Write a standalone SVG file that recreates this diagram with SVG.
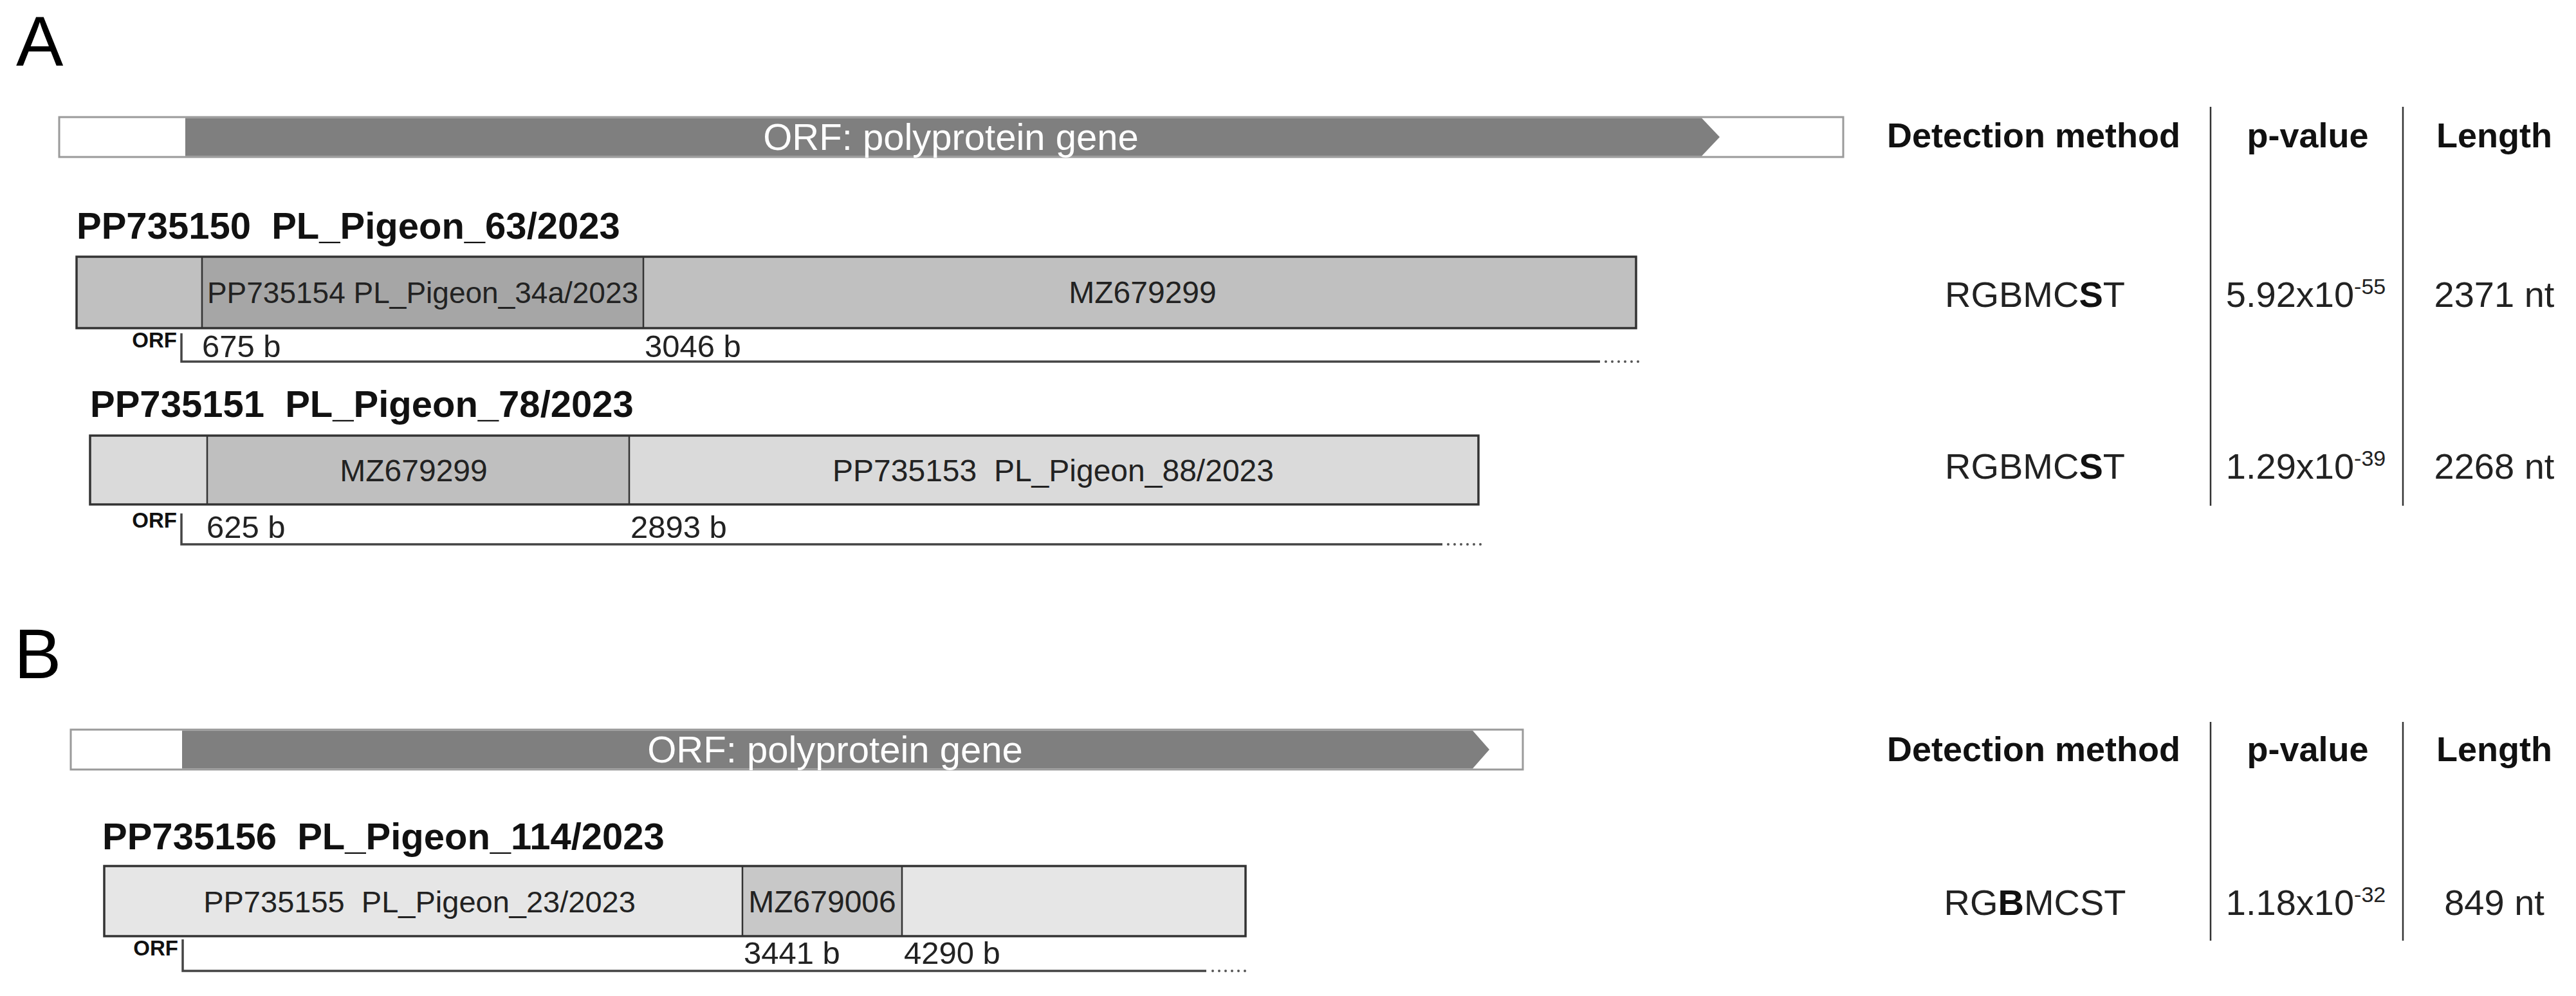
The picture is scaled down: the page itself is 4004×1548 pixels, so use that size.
<svg xmlns="http://www.w3.org/2000/svg" width="4004" height="1548" viewBox="0 0 4004 1548">
<style>
text{font-family:"Liberation Sans",Arial,sans-serif;fill:#1a1a1a;white-space:pre}
.panel{font-size:110px;fill:#000}
.title{font-size:58px;font-weight:bold;fill:#111}
.orfbar{fill:#fff;stroke:#9a9a9a;stroke-width:3}
.orfdark{fill:#7f7f7f}
.orftxt{font-size:58px;fill:#fff;text-anchor:middle}
.box{stroke:#333;stroke-width:3.5}
.div{stroke:#333;stroke-width:2.5}
.lbl{font-size:48px;fill:#222;text-anchor:middle}
.orfsm{font-size:33px;font-weight:bold;fill:#111;text-anchor:end}
.axis{stroke:#444;stroke-width:3.5;fill:none}
.dots{stroke:#555;stroke-width:4;stroke-dasharray:0 10;stroke-linecap:round;fill:none}
.tick{font-size:49px;fill:#222}
.sep{stroke:#333;stroke-width:2.5}
.hdr{font-size:54px;font-weight:bold;fill:#111;text-anchor:middle}
.cell{font-size:56px;fill:#222;text-anchor:middle}
.sup{font-size:34px}
</style>
<rect width="4004" height="1548" fill="#fff"/>

<text class="panel" x="25" y="102">A</text>
<text class="panel" x="22" y="1054">B</text>

<g id="orf-bar-A">
<rect class="orfbar" x="92" y="182" width="2773" height="62"/>
<polygon class="orfdark" points="288,183.5 2645,183.5 2673,213 2645,242.5 288,242.5"/>
<text class="orftxt" x="1478" y="233">ORF: polyprotein gene</text>
</g>

<g id="genome-PP735150">
<text class="title" x="119" y="371" xml:space="preserve">PP735150  PL_Pigeon_63/2023</text>
<rect x="119" y="399" width="195" height="111" fill="#c0c0c0"/>
<rect x="314" y="399" width="686" height="111" fill="#a6a6a6"/>
<rect x="1000" y="399" width="1543" height="111" fill="#c0c0c0"/>
<rect class="box" x="119" y="399" width="2424" height="111" fill="none"/>
<line class="div" x1="314" y1="399" x2="314" y2="510"/>
<line class="div" x1="1000" y1="399" x2="1000" y2="510"/>
<text class="lbl" x="657" y="471" style="font-size:46px">PP735154 PL_Pigeon_34a/2023</text>
<text class="lbl" x="1776" y="471">MZ679299</text>
<text class="orfsm" x="275" y="540">ORF</text>
<path class="axis" d="M282,518 V562 H2487"/>
<line class="dots" x1="2496" y1="562" x2="2547" y2="562"/>
<text class="tick" x="314" y="555">675 b</text>
<text class="tick" x="1002" y="555">3046 b</text>
</g>

<g id="genome-PP735151">
<text class="title" x="140" y="648" xml:space="preserve">PP735151  PL_Pigeon_78/2023</text>
<rect x="140" y="677" width="182" height="107" fill="#dadada"/>
<rect x="322" y="677" width="656" height="107" fill="#bfbfbf"/>
<rect x="978" y="677" width="1320" height="107" fill="#dadada"/>
<rect class="box" x="140" y="677" width="2158" height="107" fill="none"/>
<line class="div" x1="322" y1="677" x2="322" y2="784"/>
<line class="div" x1="978" y1="677" x2="978" y2="784"/>
<text class="lbl" x="643" y="748">MZ679299</text>
<text class="lbl" x="1637" y="748" xml:space="preserve">PP735153  PL_Pigeon_88/2023</text>
<text class="orfsm" x="275" y="820">ORF</text>
<path class="axis" d="M282,798 V846 H2242"/>
<line class="dots" x1="2251" y1="846" x2="2302" y2="846"/>
<text class="tick" x="321" y="836">625 b</text>
<text class="tick" x="980" y="836">2893 b</text>
</g>

<g id="table-A">
<line class="sep" x1="3436" y1="166" x2="3436" y2="786"/>
<line class="sep" x1="3735" y1="166" x2="3735" y2="786"/>
<text class="hdr" x="3161" y="229">Detection method</text>
<text class="hdr" x="3587" y="229">p-value</text>
<text class="hdr" x="3877" y="229">Length</text>
<text class="cell" x="3163" y="477">RGBMC<tspan font-weight="bold" fill="#111">S</tspan>T</text>
<text class="cell" x="3584" y="477">5.92x10<tspan class="sup" dy="-20">-55</tspan></text>
<text class="cell" x="3877" y="477">2371 nt</text>
<text class="cell" x="3163" y="744">RGBMC<tspan font-weight="bold" fill="#111">S</tspan>T</text>
<text class="cell" x="3584" y="744">1.29x10<tspan class="sup" dy="-20">-39</tspan></text>
<text class="cell" x="3877" y="744">2268 nt</text>
</g>

<g id="orf-bar-B">
<rect class="orfbar" x="110" y="1134" width="2257" height="62"/>
<polygon class="orfdark" points="283,1135.5 2289,1135.5 2315,1165 2289,1194.5 283,1194.5"/>
<text class="orftxt" x="1298" y="1185">ORF: polyprotein gene</text>
</g>

<g id="genome-PP735156">
<text class="title" x="159" y="1320" xml:space="preserve">PP735156  PL_Pigeon_114/2023</text>
<rect x="162" y="1346" width="992" height="109" fill="#e6e6e6"/>
<rect x="1154" y="1346" width="248" height="109" fill="#c8c8c8"/>
<rect x="1402" y="1346" width="534" height="109" fill="#e6e6e6"/>
<rect class="box" x="162" y="1346" width="1774" height="109" fill="none"/>
<line class="div" x1="1154" y1="1346" x2="1154" y2="1455"/>
<line class="div" x1="1402" y1="1346" x2="1402" y2="1455"/>
<text class="lbl" x="652" y="1418" style="font-size:47px" xml:space="preserve">PP735155  PL_Pigeon_23/2023</text>
<text class="lbl" x="1278" y="1418">MZ679006</text>
<text class="orfsm" x="277" y="1485">ORF</text>
<path class="axis" d="M284,1460 V1509 H1875"/>
<line class="dots" x1="1885" y1="1509" x2="1936" y2="1509"/>
<text class="tick" x="1156" y="1498">3441 b</text>
<text class="tick" x="1405" y="1498">4290 b</text>
</g>

<g id="table-B">
<line class="sep" x1="3436" y1="1122" x2="3436" y2="1462"/>
<line class="sep" x1="3735" y1="1122" x2="3735" y2="1462"/>
<text class="hdr" x="3161" y="1183">Detection method</text>
<text class="hdr" x="3587" y="1183">p-value</text>
<text class="hdr" x="3877" y="1183">Length</text>
<text class="cell" x="3163" y="1422">RG<tspan font-weight="bold" fill="#111">B</tspan>MCST</text>
<text class="cell" x="3584" y="1422">1.18x10<tspan class="sup" dy="-20">-32</tspan></text>
<text class="cell" x="3877" y="1422">849 nt</text>
</g>

<g id="connectors"></g>
</svg>
